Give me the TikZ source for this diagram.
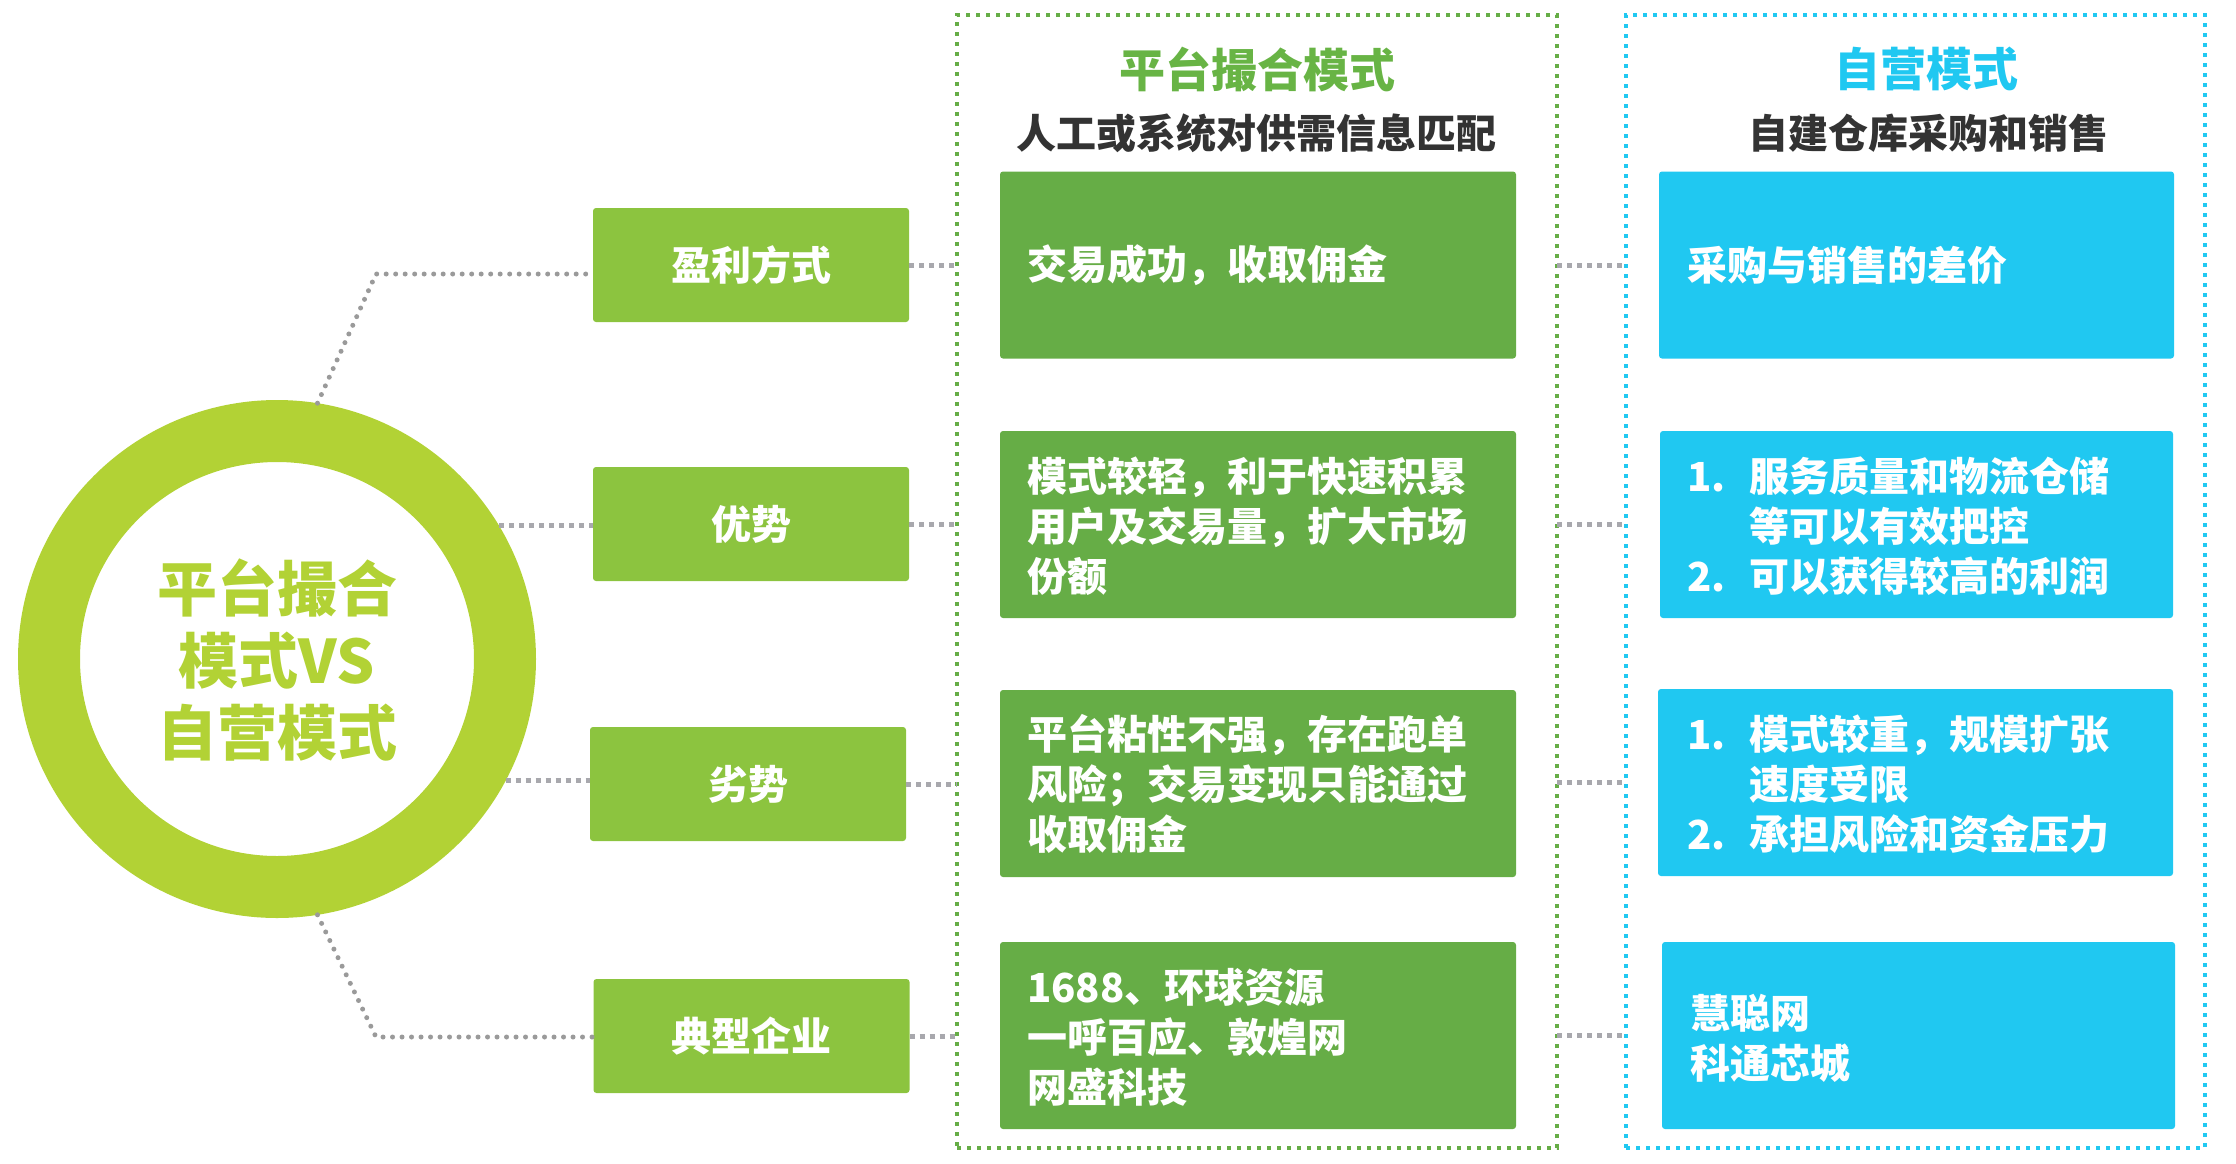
\documentclass[tikz,border=0pt]{standalone}
\usepackage{fontspec}
\setmainfont{Noto Sans CJK SC}
\definecolor{lgreen}{HTML}{8CC43F}
\definecolor{dgreen}{HTML}{66AD46}
\definecolor{cblue}{HTML}{20C8F1}
\definecolor{ring}{HTML}{B2D235}
\definecolor{tgreen}{HTML}{68B445}
\definecolor{dark}{HTML}{333333}
\definecolor{gline}{HTML}{A8A8AD}
\definecolor{rline}{HTML}{9A9A9A}
\begin{document}
\begin{tikzpicture}[x=1pt,y=-1pt,
  every node/.style={inner sep=0pt, outer sep=0pt},
  lbox/.style={fill=lgreen, rounded corners=3pt, minimum width=316pt, minimum height=114pt, text=white, font=\fontsize{40}{50}\selectfont\bfseries},
  gbox/.style={fill=dgreen, rounded corners=3pt, minimum width=516pt, minimum height=187pt},
  bbox/.style={fill=cblue, rounded corners=3pt, minimum width=515pt, minimum height=187pt},
  btext/.style={anchor=west, text=white, align=left, font=\fontsize{40}{50}\selectfont\bfseries},
  gframe/.style={draw=dgreen, line width=4pt, dash pattern=on 4pt off 6pt, minimum height=1133pt},
  bframe/.style={draw=cblue, line width=4pt, dash pattern=on 4pt off 6pt, minimum height=1133pt},
  sqdot/.style={draw=gline, line width=5pt, dash pattern=on 5pt off 5pt},
  rddot/.style={draw=rline, line width=5pt, line cap=round, dash pattern=on 0pt off 9.5pt},
]
\useasboundingbox (0,0) rectangle (2236,1163);

% frames
\node[gframe, minimum width=600pt] (gf) at (1257,581.5) {};
\node[bframe, minimum width=579pt] (bf) at (1915.5,581.5) {};

% titles
\node[text=tgreen, font=\fontsize{46}{50}\selectfont\bfseries] (gt) at (1257,69) {平台撮合模式};
\node[text=dark, font=\fontsize{40}{50}\selectfont\bfseries] (gs) at (1256,133) {人工或系统对供需信息匹配};
\node[text=cblue, font=\fontsize{46}{50}\selectfont\bfseries] (bt) at (1926,69) {自营模式};
\node[text=dark, font=\fontsize{40}{50}\selectfont\bfseries] (bs) at (1928,133) {自建仓库采购和销售};

% hub circle
\node[circle, draw=ring, line width=62pt, minimum size=456pt, outer sep=31pt] (hub) at (277,659) {};
\node[text=ring, align=center, font=\fontsize{60}{72}\selectfont\bfseries] (hubt) at (277,660) {平台撮合\\模式VS\\自营模式};

% left boxes
\node[lbox] (l1) at (751,265) {盈利方式};
\node[lbox] (l2) at (751,524) {优势};
\node[lbox] (l3) at (748,784) {劣势};
\node[lbox] (l4) at (751.5,1036) {典型企业};

% green boxes
\node[gbox] (g1) at (1258,265) {};
\node[gbox] (g2) at (1258,524.5) {};
\node[gbox] (g3) at (1258,783.5) {};
\node[gbox] (g4) at (1258,1035.5) {};
\node[btext] (g1t) at (1027,265) {交易成功，收取佣金};
\node[btext] (g2t) at (1027,526) {模式较轻，利于快速积累\\用户及交易量，扩大市场\\份额};
\node[btext] (g3t) at (1027,784) {平台粘性不强，存在跑单\\风险；交易变现只能通过\\收取佣金};
\node[btext] (g4t) at (1027,1037) {1688、环球资源\\一呼百应、敦煌网\\网盛科技};

% blue boxes
\node[bbox] (b1) at (1916.5,265) {};
\node[bbox, minimum width=513pt] (b2) at (1916.5,524.5) {};
\node[bbox] (b3) at (1915.5,782.5) {};
\node[bbox, minimum width=513pt] (b4) at (1918.5,1035.5) {};
\node[btext] (b1t) at (1687,265) {采购与销售的差价};
\node[btext] (b2t) at (1687,526) {\makebox[62pt][l]{1.}服务质量和物流仓储\\\makebox[62pt][l]{}等可以有效把控\\\makebox[62pt][l]{2.}可以获得较高的利润};
\node[btext] (b3t) at (1687,784) {\makebox[62pt][l]{1.}模式较重，规模扩张\\\makebox[62pt][l]{}速度受限\\\makebox[62pt][l]{2.}承担风险和资金压力};
\node[btext] (b4t) at (1690,1038) {慧聪网\\科通芯城};

% connectors hub -> left boxes
\coordinate (c1) at (376,274);
\coordinate (c4) at (376,1037);
\draw[rddot] (hub.81) -- (c1) -- (c1 -| l1.west);
\draw[rddot] (hub.-81) -- (c4) -- (c4 -| l4.west);
\draw[sqdot] (hub.31.4) -- (hub.31.4 -| l2.west);
\draw[sqdot] (hub.-28.6) -- (hub.-28.6 -| l3.west);

% left boxes -> green frame
\draw[sqdot] (l1.east) -- (l1.east -| gf.west);
\draw[sqdot] (l2.east) -- (l2.east -| gf.west);
\draw[sqdot] (l3.east) -- (l3.east -| gf.west);
\draw[sqdot] (l4.east) -- (l4.east -| gf.west);

% green frame -> blue frame
\draw[sqdot] (g1.east -| gf.east) -- (g1.east -| bf.west);
\draw[sqdot] (g2.east -| gf.east) -- (g2.east -| bf.west);
\draw[sqdot] (b3.west -| gf.east) -- (b3.west -| bf.west);
\draw[sqdot] (g4.east -| gf.east) -- (g4.east -| bf.west);
\end{tikzpicture}
\end{document}
